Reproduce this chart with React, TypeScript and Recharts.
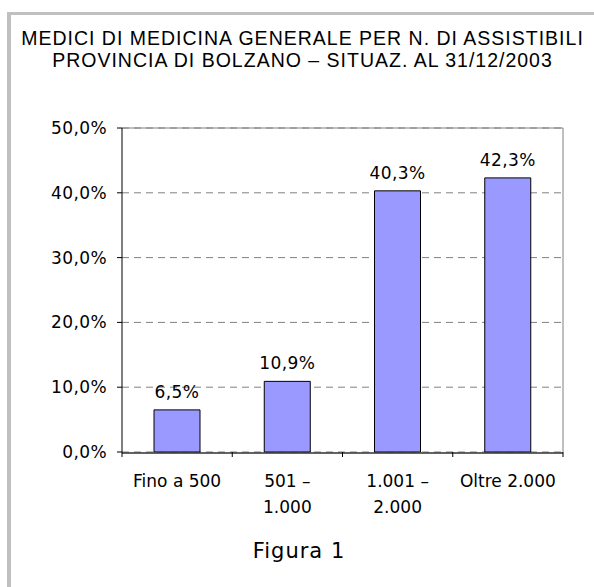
import { BarChart, Bar, XAxis, YAxis, CartesianGrid, ReferenceLine, LabelList } from 'recharts';

// fasce di assistibili e quota di medici per fascia
const categories = ['Fino a 500', '501 –\n1.000', '1.001 –\n2.000', 'Oltre 2.000'];
const shares = [6.5, 10.9, 40.3, 42.3];
const yTicks = [0, 10, 20, 30, 40, 50];
const edgeTicks = [0, 1, 2, 3, 4];

const titleLines = [
  'MEDICI DI MEDICINA GENERALE PER N. DI ASSISTIBILI',
  'PROVINCIA DI BOLZANO – SITUAZ. AL 31/12/2003',
];
const caption = 'Figura 1';

const data = categories.map((category, i) => ({ category, share: shares[i], edge: i }));

const FONT = '"DejaVu Sans", sans-serif';

const fmt = (v: number) => v.toFixed(1).replace('.', ',') + '%';

function CategoryTick({ x, y, payload }: any) {
  const lines = String(payload.value).split('\n');
  return (
    <text
      x={x}
      y={y}
      textAnchor="middle"
      fontFamily={FONT}
      fontSize={17}
      fill="#000"
    >
      {lines.map((line, i) => (
        <tspan key={i} x={x} dy={i === 0 ? 34 : 26}>
          {line}
        </tspan>
      ))}
    </text>
  );
}

const EmptyTick = () => <g />;

export default function App() {
  return (
    <div
      style={{
        position: 'absolute',
        left: 0,
        top: 0,
        width: 594,
        height: 587,
        background: '#fff',
        overflow: 'hidden',
      }}
    >
      {/* cornice grigia */}
      <div style={{ position: 'absolute', left: 7, top: 12, width: 4, height: 600, background: '#c0c0c0' }} />
      <div style={{ position: 'absolute', left: 7, top: 12, width: 600, height: 3, background: '#c0c0c0' }} />

      {/* titolo */}
      <div
        style={{
          position: 'absolute',
          left: 0,
          top: 27,
          width: 605,
          textAlign: 'center',
          fontFamily: '"Liberation Sans", Arial, sans-serif',
          fontSize: 19.5,
          lineHeight: '22px',
          letterSpacing: 1,
          color: '#000',
        }}
      >
        {titleLines.map((t) => (
          <div key={t}>{t}</div>
        ))}
      </div>

      <div style={{ position: 'absolute', left: 0, top: 0 }}>
        <BarChart
          width={594}
          height={587}
          data={data}
          margin={{ top: 128, right: 31, bottom: 74, left: 52 }}
        >
          <CartesianGrid
            xAxisId="b"
            vertical={false}
            stroke="#808080"
            strokeDasharray="7 5"
          />
          <CartesianGrid
            xAxisId="b"
            horizontal={false}
            stroke="#808080"
            verticalCoordinatesGenerator={({ offset }: any) => [offset.left + offset.width]}
          />
          <ReferenceLine xAxisId="b" y={50} stroke="#808080" />

          {/* categorie */}
          <XAxis
            xAxisId="b"
            dataKey="category"
            height={60}
            interval={0}
            axisLine={{ stroke: '#303030', strokeWidth: 1.5 }}
            tickLine={false}
            tickSize={0}
            tickMargin={0}
            tick={<CategoryTick />}
          />
          {/* tacche tra le categorie */}
          <XAxis
            xAxisId="a"
            type="number"
            dataKey="edge"
            domain={[0, 4]}
            ticks={edgeTicks}
            allowDataOverflow
            height={1}
            tick={EmptyTick}
            axisLine={false}
            tickLine={{ stroke: '#000' }}
            tickSize={5}
          />
          <YAxis
            domain={[0, 50]}
            ticks={yTicks}
            tickFormatter={fmt}
            width={70}
            axisLine={{ stroke: '#000' }}
            tickLine={{ stroke: '#000' }}
            tickSize={5}
            tickMargin={10}
            tick={{ fontFamily: FONT, fontSize: 17, fill: '#000', letterSpacing: 0.4 }}
          />

          <Bar
            xAxisId="b"
            dataKey="share"
            fill="#9999ff"
            stroke="#000"
            strokeWidth={1}
            barSize={46}
            isAnimationActive={false}
          >
            <LabelList
              dataKey="share"
              position="top"
              offset={12}
              formatter={(v: any) => fmt(Number(v))}
              style={{ fontFamily: FONT, fontSize: 17, fill: '#000', letterSpacing: 0.4 }}
            />
          </Bar>
        </BarChart>
      </div>

      {/* didascalia */}
      <div
        style={{
          position: 'absolute',
          left: 0,
          top: 538,
          width: 598,
          textAlign: 'center',
          fontFamily: FONT,
          fontSize: 21,
          lineHeight: '26px',
          letterSpacing: 1,
          color: '#000',
        }}
      >
        {caption}
      </div>
    </div>
  );
}
